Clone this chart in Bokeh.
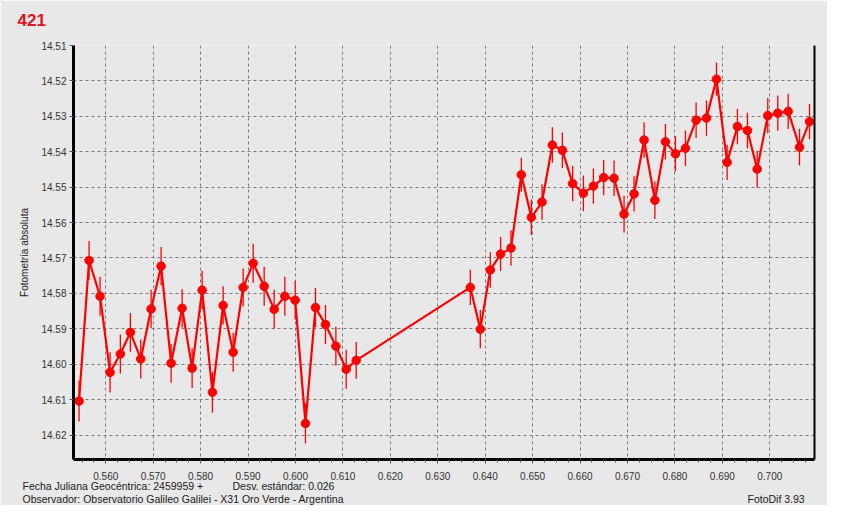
from bokeh.plotting import figure
from bokeh.models import (Range1d, FixedTicker, PrintfTickFormatter, LinearAxis, Title,
                          ColumnDataSource)
from bokeh.embed import file_html
from bokeh.resources import INLINE

# ---- data ----
jd_frac = [0.55437, 0.55648, 0.55880, 0.56091, 0.56308, 0.56519, 0.56738, 0.56956, 0.57167, 0.57378,
           0.57610, 0.57821, 0.58032, 0.58249, 0.58475, 0.58686, 0.58897, 0.59108, 0.59340, 0.59551,
           0.59776, 0.59994, 0.60211, 0.60422, 0.60633, 0.60852, 0.61070, 0.61281,
           0.63686, 0.63897, 0.64108, 0.64325, 0.64544,
           0.64762, 0.64973, 0.65198, 0.65416, 0.65627, 0.65844, 0.66070, 0.66281, 0.66498, 0.66717,
           0.66928, 0.67139,
           0.67350, 0.67578, 0.67800, 0.68011, 0.68222, 0.68447, 0.68665, 0.68876, 0.69101, 0.69318,
           0.69529, 0.69734, 0.69958, 0.70169, 0.70388, 0.70627, 0.70838]
magnitude = [14.6104, 14.5707, 14.5808, 14.6023, 14.5971, 14.5910, 14.5985, 14.5844, 14.5723, 14.5997,
             14.5842, 14.6011, 14.5791, 14.6079, 14.5834, 14.5966, 14.5783, 14.5715, 14.5780, 14.5845,
             14.5808, 14.5819, 14.6167, 14.5840, 14.5888, 14.5949, 14.6014, 14.5989,
             14.5783, 14.5901, 14.5734, 14.5689, 14.5672,
             14.5465, 14.5585, 14.5542, 14.5381, 14.5396, 14.5490, 14.5517, 14.5497, 14.5473, 14.5475,
             14.5576, 14.5519,
             14.5367, 14.5537, 14.5372, 14.5406, 14.5390, 14.5311, 14.5305, 14.5195, 14.5430, 14.5329,
             14.5340, 14.5449, 14.5298, 14.5291, 14.5286, 14.5387, 14.5315]
error = [0.0058, 0.0055, 0.0055, 0.0057, 0.0055, 0.0055, 0.0055, 0.0054, 0.0054, 0.0055,
         0.0054, 0.0056, 0.0055, 0.0058, 0.0054, 0.0055, 0.0054, 0.0055, 0.0055, 0.0055,
         0.0055, 0.0055, 0.0057, 0.0055, 0.0055, 0.0055, 0.0055, 0.0052,
         0.0050, 0.0054, 0.0050, 0.0048, 0.0050,
         0.0048, 0.0050, 0.0050, 0.0050, 0.0050, 0.0050, 0.0050, 0.0050, 0.0050, 0.0050,
         0.0052, 0.0050,
         0.0050, 0.0053, 0.0050, 0.0050, 0.0050, 0.0050, 0.0050, 0.0047, 0.0050, 0.0050,
         0.0050, 0.0052, 0.0050, 0.0050, 0.0050, 0.0052, 0.0050]

x_ticks = [0.560, 0.570, 0.580, 0.590, 0.600, 0.610, 0.620, 0.630, 0.640, 0.650, 0.660, 0.670,
           0.680, 0.690, 0.700]
y_ticks = [14.51, 14.52, 14.53, 14.54, 14.55, 14.56, 14.57, 14.58, 14.59, 14.60, 14.61, 14.62]
x_minor = [0.5525 + 0.0025 * i for i in range(64)]

title_text = "421"
y_label = "Fotometría absoluta"
footer_jd = "Fecha Juliana Geocéntrica: 2459959 +"
footer_sd = "Desv. estándar: 0.026"
footer_obs = "Observador: Observatorio Galileo Galilei - X31 Oro Verde - Argentina"
footer_sw = "FotoDif 3.93"

x_start, x_end = 0.5532, 0.70943
y_bottom, y_top = 14.6269, 14.51

BG = "#E8E8E8"
FONT = "Liberation Sans"
FRAME_L = 73

p = figure(width=827, height=505, output_backend="svg", toolbar_location=None,
           title_location=None,
           x_range=Range1d(x_start, x_end), y_range=Range1d(y_bottom, y_top),
           min_border_left=FRAME_L, min_border_right=13, min_border_top=45, min_border_bottom=46,
           background_fill_color=BG, border_fill_color=BG, outline_line_color=None)

src = ColumnDataSource(dict(x=jd_frac, y=magnitude,
                            lo=[m - e for m, e in zip(magnitude, error)],
                            hi=[m + e for m, e in zip(magnitude, error)]))

p.segment(x0="x", y0="lo", x1="x", y1="hi", source=src, line_color="#FF0000", line_width=1.3)
p.line(x="x", y="y", source=src, line_color="#FF0000", line_width=2.2)
p.scatter(x="x", y="y", source=src, size=8.5, fill_color="#FF0000", line_color="#FF0000",
          marker="circle")

xa = p.xaxis[0]
xa.ticker = FixedTicker(ticks=x_ticks, minor_ticks=x_minor)
xa.formatter = PrintfTickFormatter(format="%.3f")
ya = p.yaxis[0]
ya.ticker = FixedTicker(ticks=y_ticks)
ya.formatter = PrintfTickFormatter(format="%.2f")
for ax in (xa, ya):
    ax.axis_line_color = "black"
    ax.axis_line_width = 3
    ax.major_tick_line_color = "#555555"
    ax.minor_tick_line_color = "#555555"
    ax.major_tick_in = 0
    ax.major_tick_out = 4
    ax.minor_tick_in = 0
    ax.minor_tick_out = 3
    ax.major_label_text_font = FONT
    ax.major_label_text_font_size = "10px"
    ax.major_label_text_color = "#333333"
ya.minor_tick_out = 0
ya.major_label_standoff = 3
xa.major_label_standoff = 8
ya.axis_label = y_label
ya.axis_label_text_font = FONT
ya.axis_label_text_font_size = "10px"
ya.axis_label_text_font_style = "normal"
ya.axis_label_text_color = "#222222"
ya.axis_label_standoff = 8

right = LinearAxis(ticker=FixedTicker(ticks=[]), axis_line_color="black", axis_line_width=2,
                   major_label_text_font_size="0px", major_tick_out=0, minor_tick_out=0,
                   major_label_standoff=0)
p.add_layout(right, "right")

for g in (p.xgrid[0], p.ygrid[0]):
    g.grid_line_color = "#7A7A7A"
    g.grid_line_dash = "3 3"
    g.grid_line_width = 1
p.xgrid[0].ticker = FixedTicker(ticks=x_ticks)
p.ygrid[0].ticker = FixedTicker(ticks=y_ticks)


# ---- texts outside the frame, as titles in the side panels ----
# A title of 10.5px text takes about 14px + standoff; standoff -14 makes it take no room,
# so that it shares its row with the next one.  Blank spacers set the rows apart.
def side_text(side, txt, x, standoff, size="10.5px", color="#1A1A1A", style="normal"):
    t = Title(text=txt, align="left", offset=x - FRAME_L, vertical_align="top",
              text_font=FONT, text_font_size=size, text_font_style=style,
              text_color=color, standoff=standoff)
    p.add_layout(t, side)


def spacer(side, room):
    side_text(side, " ", 0, room - 14, color=BG)


# above: spacer next to the frame, then the red title
spacer("above", 18)
side_text("above", title_text, 17, 0, size="17px", color="#E3121B", style="bold")

# below: x axis, spacer, first row, spacer, second row
spacer("below", 4)
side_text("below", footer_jd, 22, -14)
side_text("below", footer_sd, 232, -14)
spacer("below", 12.5)
side_text("below", footer_obs, 22, -14)
side_text("below", footer_sw, 747, -14)

open("out.html", "w").write(file_html(p, INLINE))
